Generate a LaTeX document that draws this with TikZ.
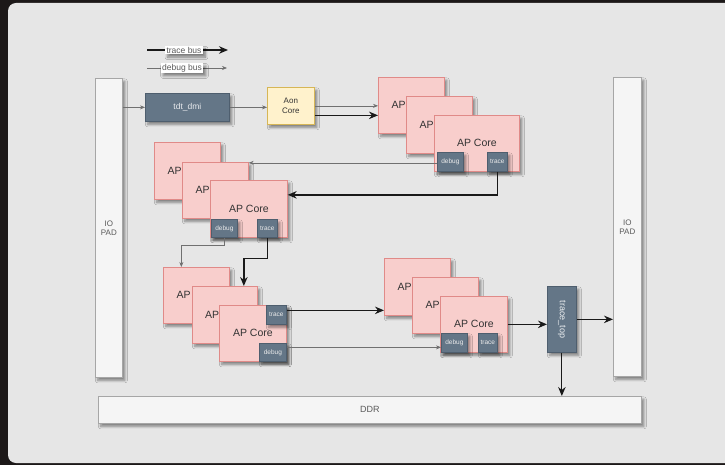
\documentclass[tikz,border=0pt]{standalone}
\usepackage{fontspec}
\setmainfont{Liberation Sans}
\usetikzlibrary{arrows.meta,shadows.blur,calc}
\definecolor{outerbg}{HTML}{1C1818}
\definecolor{panelbg}{HTML}{E6E6E6}
\definecolor{padfill}{HTML}{F5F5F5}
\definecolor{paddraw}{HTML}{A6A6A6}
\definecolor{corefill}{HTML}{F8CECC}
\definecolor{coredraw}{HTML}{E08A88}
\definecolor{portfill}{HTML}{647687}
\definecolor{portdraw}{HTML}{4E5E6E}
\definecolor{aonfill}{HTML}{FFF2CC}
\definecolor{aondraw}{HTML}{D6B656}
\definecolor{thinline}{HTML}{707070}
\definecolor{txtgray}{HTML}{5A5A5A}
\tikzset{
  shad/.style={blur shadow={shadow xshift=2.5pt, shadow yshift=-3pt, shadow blur radius=2.5pt, shadow blur steps=6, shadow opacity=45}},
  blk/.style={shad, inner sep=0pt, anchor=north west, line width=0.7pt},
  padbox/.style={blk, draw=paddraw, fill=padfill, text=txtgray, font=\fontsize{8}{9}\selectfont, align=center},
  corebox/.style={blk, draw=coredraw, fill=corefill, text=black!80, font=\fontsize{10.5}{12}\selectfont},
  portbox/.style={blk, draw=portdraw, fill=portfill, text=white!92!black, font=\fontsize{6.5}{7}\selectfont},
  aonbox/.style={blk, draw=aondraw, fill=aonfill, text=black!80, font=\fontsize{8}{9.5}\selectfont, align=center},
  thinarr/.style={draw=thinline, line width=0.6pt, -{Stealth[length=5pt,width=4pt]}},
  thickarr/.style={draw=black!90, line width=1.4pt, -{Stealth[length=9pt,width=7.5pt]}},
  legendlabel/.style={fill=white, inner xsep=1.5pt, inner ysep=1pt, text=txtgray, font=\fontsize{8.5}{9}\selectfont, shad}
}
\begin{document}
\begin{tikzpicture}[x=1pt,y=-1pt]
\useasboundingbox (0,0) rectangle (725,465);
\begin{scope}
\clip (0,0) rectangle (725,465);
\fill[outerbg] (0,0) rectangle (725,465);
\fill[panelbg, rounded corners=8pt] (8,3) rectangle (745,463);
\end{scope}

% legend
\coordinate (lt1) at (147,50);
\coordinate (lt2) at (228,50);
\coordinate (ld1) at (147,68);
\coordinate (ld2) at (227,68);
\draw[thickarr, line width=1.2pt] (lt1) -- (lt2);
\draw[thinarr] (ld1) -- (ld2);
\node[legendlabel] (ltl) at (184,50) {trace bus};
\node[legendlabel] (ldl) at (182,68) {debug bus};

% IO pads and DDR
\node[padbox, minimum width=27pt, minimum height=299pt] (padL) at (95,78) {IO\\PAD};
\node[padbox, minimum width=28pt, minimum height=299pt] (padR) at (613,77) {IO\\PAD};
\node[padbox, minimum width=543pt, minimum height=27pt, font=\fontsize{9}{10}\selectfont] (ddr) at (98,396) {DDR};

% tdt_dmi and Aon
\node[blk, draw=portdraw, fill=portfill, text=white!85!portfill, font=\fontsize{8.5}{10}\selectfont, minimum width=84pt, minimum height=28pt] (tdt) at (145,93) {tdt\_dmi};
\node[aonbox, minimum width=47pt, minimum height=37pt] (aon) at (267,87) {Aon\\Core};

% group 1
\node[corebox, minimum width=66pt, minimum height=56pt] (g1a) at (378,77) {AP Core};
\node[corebox, minimum width=66pt, minimum height=57pt] (g1b) at (406,96) {AP Core};
\node[corebox, minimum width=85pt, minimum height=56pt] (g1c) at (434,115) {AP Core};
\node[portbox, minimum width=26pt, minimum height=19pt] (g1d) at (437,152) {debug};
\node[portbox, minimum width=20pt, minimum height=19pt] (g1t) at (487,152) {trace};

% group 2
\node[corebox, minimum width=66pt, minimum height=57pt] (g2a) at (154,142) {AP Core};
\node[corebox, minimum width=66pt, minimum height=56pt] (g2b) at (182,162) {AP Core};
\node[corebox, minimum width=77pt, minimum height=57pt] (g2c) at (210,180) {AP Core};
\node[portbox, minimum width=26pt, minimum height=18pt] (g2d) at (211,219) {debug};
\node[portbox, minimum width=20pt, minimum height=18pt] (g2t) at (257,219) {trace};

% group 3
\node[corebox, minimum width=66pt, minimum height=56pt] (g3a) at (163,267) {AP Core};
\node[corebox, minimum width=65pt, minimum height=57pt] (g3b) at (192,286) {AP Core};
\node[corebox, minimum width=67pt, minimum height=56pt] (g3c) at (219,305) {AP Core};
\node[portbox, minimum width=20pt, minimum height=19pt] (g3t) at (266,305) {trace};
\node[portbox, minimum width=27pt, minimum height=18pt] (g3d) at (259,343) {debug};

% group 4
\node[corebox, minimum width=66pt, minimum height=57pt] (g4a) at (384,258) {AP Core};
\node[corebox, minimum width=66pt, minimum height=56pt] (g4b) at (412,277) {AP Core};
\node[corebox, minimum width=67pt, minimum height=56pt] (g4c) at (440,296) {AP Core};
\node[portbox, minimum width=26pt, minimum height=19pt] (g4d) at (441,333) {debug};
\node[portbox, minimum width=19pt, minimum height=19pt] (g4t) at (478,333) {trace};

% trace_top
\node[blk, draw=portdraw, fill=portfill, minimum width=29pt, minimum height=66pt] (tt) at (547,286) {};
\node[rotate=-90, text=white!88!portfill, font=\fontsize{9}{10}\selectfont] (ttl) at (tt.center) {trace\_top};

% connectors
\draw[thinarr] (padL.east |- tdt.west) -- (tdt.west);
\draw[thinarr] (tdt.east) -- (tdt.east -| aon.west);
\draw[thinarr] (aon.east) -- (aon.east -| g1a.west);
\coordinate (aonT) at ([yshift=-9.5pt]aon.east);
\draw[thickarr] (aonT) -- (aonT -| g1a.west);

\coordinate (g1dx) at ([yshift=-1pt]g1d.west);
\draw[thinarr] (g1dx) -- (g1dx -| g2b.east);
\draw[thickarr] (g1t.south) |- ([yshift=14pt]g2c.east);

\draw[thinarr] (g2d.south) -- ++(0,8) -| ([xshift=-15pt]g3a.north);
\draw[thickarr] (g2t.south) -- ++(0,21) -| ([xshift=19pt]g3b.north);

\coordinate (g3tx) at ([yshift=4.5pt]g3t.east);
\draw[thickarr] (g3tx) -- (g3tx -| g4a.west);
\coordinate (g3dx) at ([yshift=5pt]g3d.east);
\draw[thinarr] (g3dx) -- (g3dx -| g4d.west);

\draw[thickarr] (g4c.east) -- (g4c.east -| tt.west);
\draw[thickarr] (tt.east) -- (tt.east -| padR.west);
\draw[thickarr, line width=1.1pt] (tt.south) -- (tt.south |- ddr.north);
\end{tikzpicture}
\end{document}
